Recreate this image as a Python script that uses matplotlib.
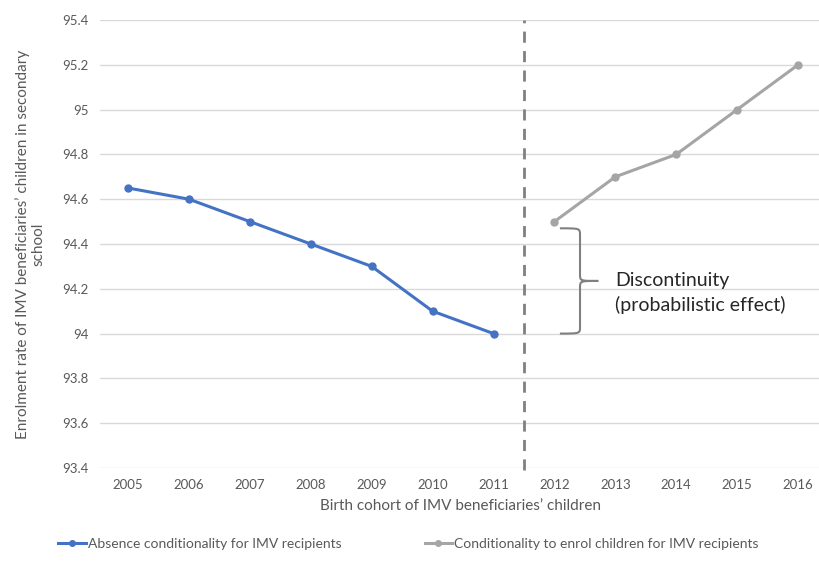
import matplotlib
matplotlib.use('Agg')
from matplotlib import pyplot as plt
from matplotlib.path import Path
from matplotlib.patches import PathPatch

plt.rcParams['font.family'] = ['Lato', 'DejaVu Sans']

# Данные
years = ['2005', '2006', '2007', '2008', '2009', '2010', '2011',
         '2012', '2013', '2014', '2015', '2016']
absence_x = [0, 1, 2, 3, 4, 5, 6]
absence_vals = [94.65, 94.6, 94.5, 94.4, 94.3, 94.1, 94.0]
cond_x = [7, 8, 9, 10, 11]
cond_vals = [94.5, 94.7, 94.8, 95.0, 95.2]
y_ticks = [93.4, 93.6, 93.8, 94, 94.2, 94.4, 94.6, 94.8, 95, 95.2, 95.4]
y_tick_labels = ['93.4', '93.6', '93.8', '94', '94.2', '94.4', '94.6',
                 '94.8', '95', '95.2', '95.4']

blue = '#4472C4'
grey = '#A5A5A5'
text_col = '#595959'

fig = plt.figure(figsize=(8.2, 5.62), dpi=100)
ax = fig.add_axes([0.122, 0.1673, 0.878, 0.7971])

ax.plot(absence_x, absence_vals, color=blue, lw=2.2, marker='o', ms=5,
        label='Absence conditionality for IMV recipients')
ax.plot(cond_x, cond_vals, color=grey, lw=2.2, marker='o', ms=5,
        label='Conditionality to enrol children for IMV recipients')

# Вертикальная пунктирная линия
ax.axvline(6.5, ymin=-0.005, ymax=1.0, color='#808080', lw=2,
           dashes=(4, 3), clip_on=False)

# Фигурная скобка
x_end, x_mid, x_tip = 7.09, 7.42, 7.72
y_top, y_bot, y_mid = 94.47, 94.0, 94.235
verts = [
    (x_end, y_top), (x_mid, y_top), (x_mid, y_top), (x_mid, y_top - 0.03),
    (x_mid, y_mid + 0.03),
    (x_mid, y_mid), (x_mid, y_mid), (x_tip, y_mid),
    (x_mid, y_mid), (x_mid, y_mid), (x_mid, y_mid - 0.03),
    (x_mid, y_bot + 0.03),
    (x_mid, y_bot), (x_mid, y_bot), (x_end, y_bot),
]
codes = [Path.MOVETO, Path.CURVE4, Path.CURVE4, Path.CURVE4,
         Path.LINETO,
         Path.CURVE4, Path.CURVE4, Path.CURVE4,
         Path.CURVE4, Path.CURVE4, Path.CURVE4,
         Path.LINETO,
         Path.CURVE4, Path.CURVE4, Path.CURVE4]
ax.add_patch(PathPatch(Path(verts, codes), fill=False, edgecolor='#808080', lw=1.5))

ax.text(8.0, 94.18, 'Discontinuity\n(probabilistic effect)', fontsize=14,
        color='#262626', ha='left', va='center', multialignment='left',
        linespacing=1.45)

ax.set_xlim(-0.46, 11.36)
ax.set_ylim(93.4, 95.4)
ax.set_xticks(range(len(years)))
ax.set_xticklabels(years)
ax.set_yticks(y_ticks)
ax.set_yticklabels(y_tick_labels)
ax.tick_params(length=0, labelsize=9.5, colors=text_col, pad=8)
ax.grid(axis='y', color='#D9D9D9', lw=1)
ax.set_axisbelow(True)
for s in ax.spines.values():
    s.set_visible(False)

ax.set_xlabel('Birth cohort of IMV beneficiaries\u2019 children', fontsize=11,
              color=text_col, labelpad=6)
ax.set_ylabel('Enrolment rate of IMV beneficiaries\u2019 children in secondary\nschool',
              fontsize=11, color=text_col, labelpad=12)

fig.legend(loc='lower center', bbox_to_anchor=(0.498, 0.0), ncol=2, frameon=False,
           fontsize=10, labelcolor=text_col, handlelength=2.0, handletextpad=0.1,
           columnspacing=6, markerscale=0.8)

fig.savefig('out.png', dpi=100)
